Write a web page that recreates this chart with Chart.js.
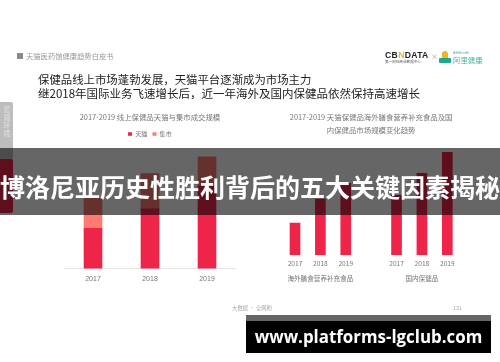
<!DOCTYPE html>
<html lang="zh">
<head>
<meta charset="utf-8">
<script src="https://cdn.jsdelivr.net/npm/chart.js@4"></script>
<style>
  html, body { margin: 0; padding: 0; background: #fff; }
  body { width: 500px; height: 362px; overflow: hidden; position: relative; font-family: "Noto Sans CJK SC", sans-serif; }
  #page { position: absolute; left: 0; top: 0; width: 500px; height: 362px; filter: blur(0.55px); }
  .abs { position: absolute; white-space: nowrap; }
  canvas { position: absolute; }
</style>
</head>
<body>
<div id="page">
  <div class="abs" style="left:17px;top:53px;width:6px;height:6px;background:#8a8a8a"></div>
  <div class="abs" style="left:26px;top:50px;font-size:7.3px;line-height:12px;color:#999">天猫医药馆健康趋势白皮书</div>

  <div class="abs" style="left:385px;top:49px;font:bold 8.6px/12px 'Liberation Sans';letter-spacing:.35px;color:#222">CB<span style="color:#e8b030">N</span>DATA</div>
  <div class="abs" style="left:385px;top:59px;font-size:3.6px;line-height:5px;color:#555">第一财经商业数据中心</div>
  <div class="abs" style="left:431px;top:50px;font-size:7px;line-height:12px;color:#999">×</div>
  <div class="abs" style="left:439px;top:58px;width:12px;height:5px;background:#1fa98c;border-radius:1px"></div>
  <div class="abs" style="left:442px;top:51px;width:6px;height:7px;background:#f0b429;border-radius:3px 3px 0 0"></div>
  <div class="abs" style="left:453px;top:50px;font:4px/5px 'Liberation Sans';color:#4db39a">AliHealth</div>
  <div class="abs" style="left:453px;top:55px;font-size:7.4px;line-height:10px;color:#4db39a">阿里健康</div>

  <div class="abs" style="left:38px;top:72px;font-size:11.4px;line-height:14px;color:#222">保健品线上市场蓬勃发展，天猫平台逐渐成为市场主力</div>
  <div class="abs" style="left:38px;top:86px;font-size:11.5px;line-height:14px;color:#222">继2018年国际业务飞速增长后，近一年海外及国内保健品依然保持高速增长</div>

  <div class="abs" style="left:0;top:102px;width:13px;height:58px;background:#bdbdbd;border-radius:0 2px 2px 0"></div>
  <div class="abs" style="left:0;top:159px;width:13px;height:54px;background:#ee2449;border-radius:0 2px 2px 0"></div>
  <div class="abs" style="left:1px;top:106px;width:12px;writing-mode:vertical-rl;font-size:7px;line-height:12px;letter-spacing:1px;color:#e4e4e4">宏观环境</div>

  <canvas id="left-chart"></canvas>
  <canvas id="right-chart"></canvas>

  <div class="abs" style="left:232px;top:304px;font-size:5.4px;line-height:8px;color:#aaa">大数据 · 全网粉</div>
  <div class="abs" style="left:453px;top:304px;font-size:5.4px;line-height:8px;color:#aaa">131</div>
</div>

<div class="abs" style="left:0;top:148px;width:500px;height:67px;background:rgba(0,0,0,.6)"></div>
<div class="abs" style="left:-1px;top:148px;width:502px;height:76px;text-align:center;font-size:25px;font-weight:700;line-height:76px;color:#fff;filter:blur(.25px)">博洛尼亚历史性胜利背后的五大关键因素揭秘</div>

<div class="abs" style="left:246px;top:315px;width:245px;height:6px;background:#666"></div>
<div class="abs" style="left:246px;top:321px;width:245px;height:32px;background:#000"></div>
<div class="abs" style="left:246px;top:321px;width:245px;height:32px;text-align:center;font:bold 16.9px/32px 'Open Sans';color:#fff;filter:blur(.25px)">www.platforms-lgclub.com</div>

<script>
// 左圖：線上保健品天貓與集市成交規模
const leftYears = ["2017", "2018", "2019"];
const tmallValues = [41, 61, 84];
const jishiValues = [31, 36, 30];

// 右圖：海外 / 國內保健品
const rightLabels = ["2017", ["2018", "海外膳食营养补充食品"], "2019", "", "2017", ["2018", "国内保健品"], "2019"];
const rightValues = [32, 56, 72, null, 60, 82, 103];

const RED = "#ee2449";
const LIGHT_RED = "#ff7a70";
const FONT = "'Noto Sans CJK SC', sans-serif";

const placeCanvas = (id, left, top, width, height) => {
  const el = document.getElementById(id);
  el.style.left = left + "px";
  el.style.top = top + "px";
  el.style.width = width + "px";
  el.style.height = height + "px";
  el.width = width;
  el.height = height;
  return el;
};

new Chart(placeCanvas("left-chart", 40, 108, 198, 181), {
  type: "bar",
  data: {
    labels: leftYears,
    datasets: [
      { label: "天猫", data: tmallValues, backgroundColor: RED, barThickness: 18, stack: "a" },
      { label: "集市", data: jishiValues, backgroundColor: LIGHT_RED, barThickness: 18, stack: "a" },
    ],
  },
  options: {
    responsive: false,
    animation: false,
    layout: { padding: { left: 24.5, right: 2.5, top: 0, bottom: 0 } },
    plugins: {
      title: {
        display: true,
        text: "2017-2019 线上保健品天猫与集市成交规模",
        color: "#777",
        font: { family: FONT, size: 7.4, weight: "normal" },
        padding: { top: 5, bottom: 4 },
      },
      legend: {
        display: true,
        position: "top",
        labels: {
          usePointStyle: true,
          pointStyle: "rect",
          pointStyleWidth: 4,
          boxHeight: 3.5,
          padding: 5,
          color: "#777",
          font: { family: FONT, size: 6.2 },
        },
      },
      tooltip: { enabled: false },
    },
    scales: {
      x: {
        stacked: true,
        grid: { display: false, drawTicks: false },
        border: { color: "#e4e4e4" },
        ticks: { color: "#777", padding: 6, font: { family: "'Liberation Sans'", size: 7 } },
      },
      y: { stacked: true, display: false, min: 0, max: 124 },
    },
  },
});

new Chart(placeCanvas("right-chart", 250, 108, 224, 179), {
  type: "bar",
  data: {
    labels: rightLabels,
    datasets: [{ label: "规模", data: rightValues, backgroundColor: RED, barThickness: 10 }],
  },
  options: {
    responsive: false,
    animation: false,
    layout: { padding: { left: 32.3, right: 14, top: 0, bottom: 0 } },
    plugins: {
      title: {
        display: true,
        text: ["2017-2019 天猫保健品海外膳食营养补充食品及国", "内保健品市场规模变化趋势"],
        color: "#777",
        font: { family: FONT, size: 7.4, weight: "normal", lineHeight: 1.85 },
        padding: { top: 2, bottom: 0 },
      },
      legend: { display: false },
      tooltip: { enabled: false },
    },
    scales: {
      x: {
        grid: { display: false, drawTicks: false },
        border: { display: false },
        ticks: {
          autoSkip: false,
          maxRotation: 0,
          minRotation: 0,
          color: "#777",
          padding: 1,
          font: { family: FONT, size: 6.6, lineHeight: 2.27 },
        },
      },
      y: { display: false, min: 0, max: 118 },
    },
  },
});
</script>
</body>
</html>
